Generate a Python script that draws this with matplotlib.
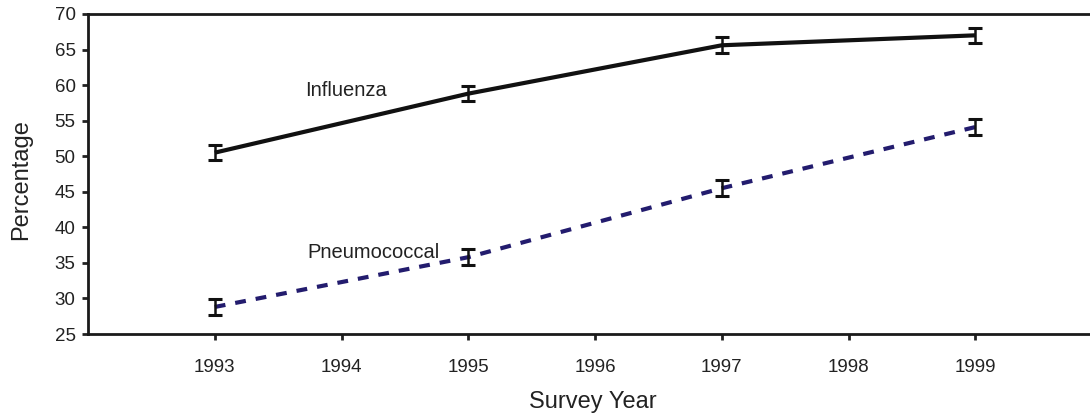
import matplotlib
matplotlib.use("Agg")
import matplotlib.pyplot as plt

plt.rcParams['font.family'] = ['Liberation Sans', 'DejaVu Sans']

years = [1993, 1995, 1997, 1999]
influenza = [50.5, 58.8, 65.6, 67.0]
pneumococcal = [28.8, 35.8, 45.5, 54.1]
influenza_err = [1.1, 1.1, 1.1, 1.1]
pneumococcal_err = [1.1, 1.1, 1.1, 1.1]
xticks = [1993, 1994, 1995, 1996, 1997, 1998, 1999]
yticks = [25, 30, 35, 40, 45, 50, 55, 60, 65, 70]

fig = plt.figure(figsize=(10.9, 4.19), dpi=100)
ax = fig.add_axes([88/1090, 85/419, 1014/1090, 320/419])

ax.plot(years, influenza, color='#111111', lw=3, solid_capstyle='butt')
ax.errorbar(years, influenza, yerr=influenza_err, fmt='none', ecolor='#111111',
            elinewidth=1.8, capsize=4.7, capthick=2.2)
ax.plot(years, pneumococcal, color='#231c6e', lw=3, ls=(0, (2.6, 2.4)))
ax.errorbar(years, pneumococcal, yerr=pneumococcal_err, fmt='none', ecolor='#111111',
            elinewidth=1.8, capsize=4.7, capthick=2.2)

ax.text(1993.71, 59.2, 'Influenza', fontsize=14.5, color='#222222', va='center')
ax.text(1993.73, 36.5, 'Pneumococcal', fontsize=14.5, color='#222222', va='center')

ax.set_xlim(1992, 2000)
ax.set_ylim(25, 70)
ax.set_xticks(xticks)
ax.set_yticks(yticks)
ax.tick_params(axis='both', labelsize=13.5, colors='#222222', width=2, length=4)
ax.tick_params(axis='x', pad=14)
ax.tick_params(axis='y', pad=5)
for s in ['left', 'bottom', 'top']:
    ax.spines[s].set_linewidth(2)
    ax.spines[s].set_color('#1a1a1a')
ax.spines['right'].set_visible(False)

fig.text(593/1090, 1 - 402/419, 'Survey Year', fontsize=17, color='#222222',
         ha='center', va='center')
fig.text(21/1090, 1 - 180/419, 'Percentage', fontsize=17, color='#222222',
         ha='center', va='center', rotation=90)

fig.savefig('out.png', dpi=100)
